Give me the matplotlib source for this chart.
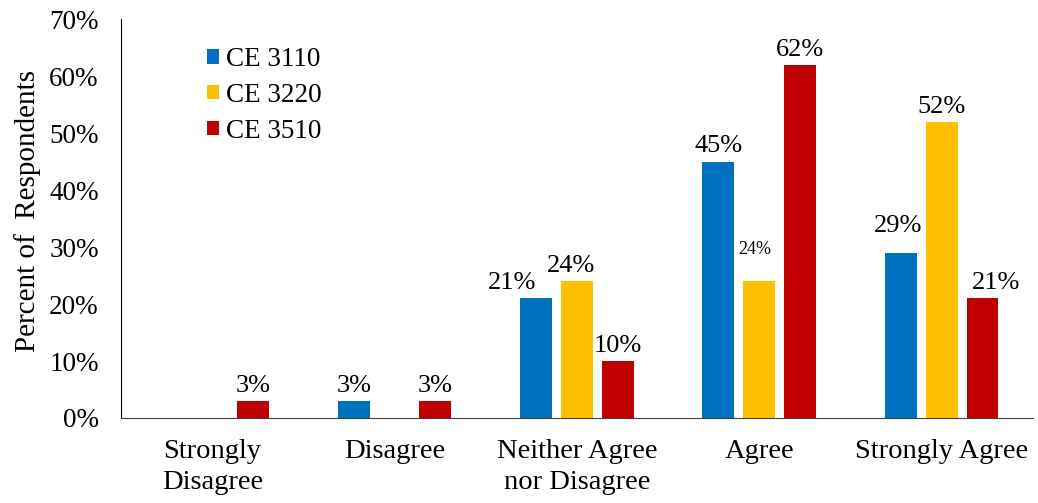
import matplotlib.pyplot as plt
import numpy as np

categories = ["Strongly\nDisagree", "Disagree", "Neither Agree\nnor Disagree", "Agree", "Strongly Agree"]
series = ["CE 3110", "CE 3220", "CE 3510"]
ce3110 = [0, 3, 21, 45, 29]
ce3220 = [0, 0, 24, 24, 52]
ce3510 = [3, 3, 10, 62, 21]
colors = ["#0070C0", "#FFC000", "#C00000"]

plt.rcParams['font.family'] = ['Liberation Serif', 'DejaVu Serif']

fig = plt.figure(figsize=(10.38, 5.03), dpi=100)
ax = fig.add_axes([0.1166, 0.169, 0.8784, 0.793])

x = np.arange(len(categories))
w = 0.175
step = 0.224
for i, (name, vals) in enumerate(zip(series, [ce3110, ce3220, ce3510])):
    xs = x + (i - 1) * step
    ax.bar(xs, vals, w, color=colors[i], label=name)
    for j, v in enumerate(vals):
        if v == 0:
            continue
        dx, dy, fs = 0, 3, 19
        # a few labels sit off-centre / smaller in the original
        if categories[j].startswith("Neither") and name == "CE 3110":
            dx = -17
        if categories[j].startswith("Neither") and name == "CE 3220":
            dx = -4
        if categories[j] == "Agree" and name == "CE 3220":
            dx, dy, fs = -3, 17, 13
        if categories[j] == "Strongly Agree" and name == "CE 3110":
            dx, dy = -2, 11
        if categories[j] == "Strongly Agree" and name == "CE 3510":
            dx = 10
        ax.annotate(f"{v}%", (xs[j], v), xytext=(dx, dy), textcoords="offset points",
                    ha="center", va="bottom", fontsize=fs)

ax.set_xlim(-0.5, 4.5)
ax.set_ylim(0, 70)
ax.set_yticks(range(0, 71, 10))
ax.set_yticklabels([f"{t}%" for t in range(0, 71, 10)], fontsize=19.5)
ax.set_xticks(x)
ax.set_xticklabels(categories, fontsize=20.5, linespacing=1.3)
ax.tick_params(axis="both", length=0)
ax.tick_params(axis="x", pad=15)
ax.tick_params(axis="y", pad=16)
ax.set_ylabel("Percent of  Respondents", fontsize=21)
ax.yaxis.set_label_coords(-0.088, 0.52)

ax.spines["top"].set_visible(False)
ax.spines["right"].set_visible(False)
ax.spines["left"].set_color("black")
ax.spines["bottom"].set_color("#404040")

ax.legend(loc="upper left", bbox_to_anchor=(0.094, 0.93), frameon=False, fontsize=19.5,
          borderpad=0, borderaxespad=0,
          handlelength=0.45, handleheight=0.45, handletextpad=0.25, labelspacing=0.4)

fig.savefig("out.png", dpi=100)
